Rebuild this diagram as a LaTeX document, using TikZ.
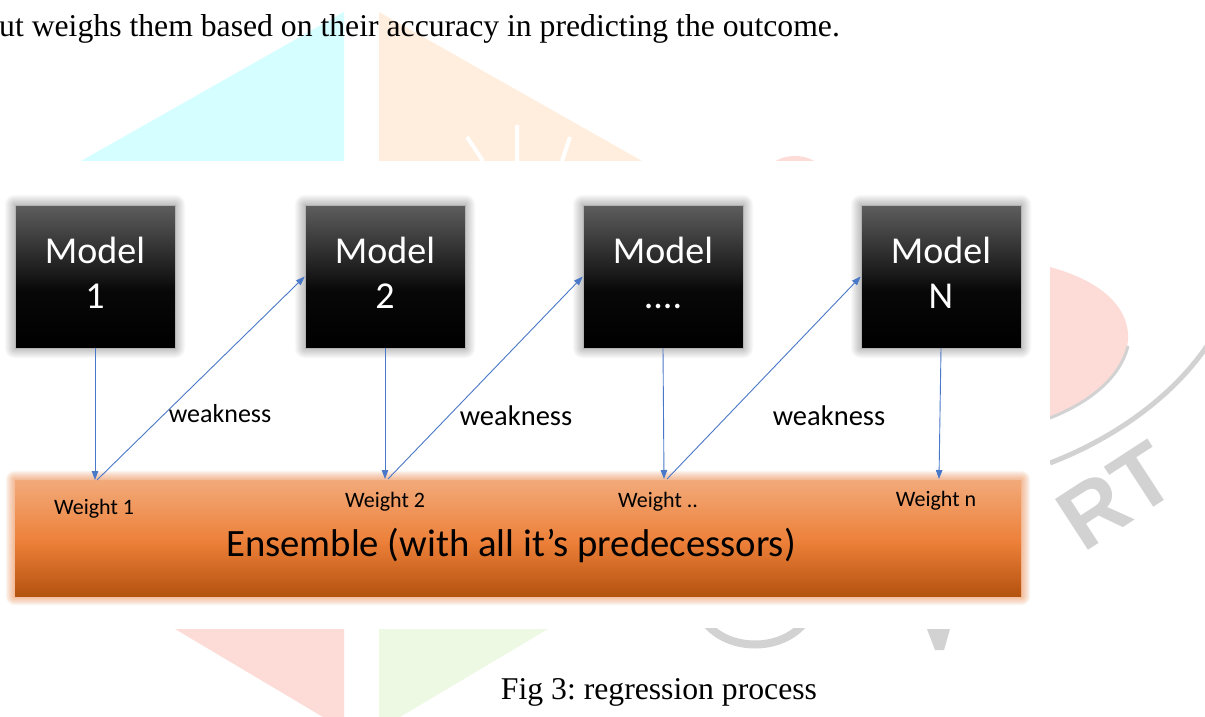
\documentclass[tikz,border=0pt]{standalone}
\usepackage{fontspec}
\setmainfont{Liberation Serif}
\newfontfamily\carlito{Carlito}
\newfontfamily\wmsans{Liberation Sans}
\usetikzlibrary{arrows.meta,calc}
\frenchspacing
\definecolor{arrblue}{HTML}{4A78C8}
\definecolor{wmcyan}{HTML}{D4FEFF}
\definecolor{wmpeach}{HTML}{FFEEDD}
\definecolor{wmpink}{HTML}{FDDCD8}
\definecolor{wmgreen}{HTML}{EEF9E4}
\definecolor{wmgray}{HTML}{D2D2D2}
\definecolor{boxtop}{HTML}{5E5E5E}
\definecolor{ensTop}{HTML}{F2AA7A}
\definecolor{ensMid}{HTML}{EC7F38}
\definecolor{ensBot}{HTML}{B4520F}
\pgfdeclareverticalshading{modelshade}{100bp}{color(0bp)=(black); color(25bp)=(black); color(45bp)=(black!97); color(75bp)=(boxtop); color(100bp)=(boxtop)}
\pgfdeclareverticalshading{ensshade}{100bp}{color(0bp)=(ensBot); color(25bp)=(ensBot); color(48bp)=(ensMid); color(75bp)=(ensTop); color(100bp)=(ensTop)}
\pgfdeclarelayer{wm}
\pgfdeclarelayer{glow}
\pgfsetlayers{wm,glow,main}
\tikzset{
  modelbox/.style={minimum width=160pt, minimum height=143pt, inner sep=0pt, shading=modelshade, draw=gray!60, line width=0.5pt, text=white, align=center, text depth=8pt, font=\carlito\fontsize{38}{45}\selectfont},
  ensbox/.style={minimum width=1006pt, minimum height=116pt, inner sep=0pt, shading=ensshade},
  arr/.style={draw=arrblue, line width=0.9pt, -{Triangle[length=9pt,width=6.5pt]}},
  weaklbl/.style={font=\carlito\fontsize{28.5}{30}\selectfont, inner sep=0pt, anchor=base},
  wlbl/.style={font=\carlito\fontsize{22}{24}\selectfont, inner sep=0pt, anchor=base},
  paratext/.style={font=\fontsize{31.7}{34}\selectfont, inner sep=0pt, anchor=base west}
}
\begin{document}
\begin{tikzpicture}[x=1pt,y=-1pt]
\useasboundingbox (0,0) rectangle (1205,717);
% ---- watermark ----
\begin{pgfonlayer}{wm}
\fill[white] (0,0) rectangle (1205,717);
\fill[wmcyan] (81,161) -- (344,12) -- (344,161) -- cycle;
\fill[wmpeach] (379,12) -- (642,161) -- (379,161) -- cycle;
\draw[white, line width=4pt] (467,137) -- (483,161) (517,125) -- (517,161) (570,137) -- (562,161);
\fill[wmpink] (795,174) ellipse [x radius=28pt, y radius=18pt];
\fill[wmpink] (1050,267) .. controls (1105,282) and (1130,310) .. (1128,340) .. controls (1126,370) and (1095,400) .. (1050,418) -- cycle;
\draw[wmgray, line width=3pt] (1050,418) .. controls (1090,402) and (1120,378) .. (1128,346);
\draw[wmgray, line width=5pt] (1050,463) .. controls (1110,440) and (1170,400) .. (1207,346);
\node[wmgray, font=\wmsans\bfseries\fontsize{88}{88}\selectfont, rotate=33, inner sep=0pt] (wmrt) at (1116,496) {RT};
\fill[wmpink] (175,629) -- (344,629) -- (344,717) -- (323,717) -- cycle;
\fill[wmgreen] (379,629) -- (548,629) -- (400,717) -- (379,717) -- cycle;
\draw[wmgray, line width=8pt] (705,622) .. controls (728,652) and (782,652) .. (805,622);
\fill[wmgray] (927,629) -- (950,629) -- (944,650) -- (935,650) -- cycle;
\fill[white] (0,161) rectangle (1050,628);
\end{pgfonlayer}
% ---- text ----
\node[paratext] (para) at (-1,37) {ut weighs them based on their accuracy in predicting the outcome.};
\node[font=\fontsize{31.7}{34}\selectfont, inner sep=0pt, anchor=base] (cap) at (659,699) {Fig 3: regression process};
% ---- model boxes ----
\node[modelbox] (m1) at (95,276.5) {Model\\1};
\node[modelbox] (m2) at (385,276.5) {Model\\2};
\node[modelbox] (m3) at (663,276.5) {Model\\....};
\node[modelbox] (m4) at (941,276.5) {Model\\N};
\node[ensbox] (ens) at (518,538) {};
\node[font=\carlito\fontsize{38.7}{40}\selectfont, inner sep=0pt, anchor=base] (enstxt) at (511,556) {Ensemble (with all it’s predecessors)};
% glows
\begin{pgfonlayer}{glow}
\foreach \n in {m1,m2,m3,m4}{
  \foreach \i in {1,...,10}{
    \fill[black, opacity=0.022, rounded corners=\i pt] ($(\n.north west)+(-\i,-\i)$) rectangle ($(\n.south east)+(\i,\i)$);
  }
}
\foreach \i in {1,...,9}{
  \fill[ensMid, opacity=0.07, rounded corners=\i pt] ($(ens.north west)+(-\i,-\i)$) rectangle ($(ens.south east)+(\i,\i)$);
}
\end{pgfonlayer}
% ---- weight labels ----
\node[wlbl] (w1) at (94,514) {Weight 1};
\node[wlbl] (w2) at (385,507) {Weight 2};
\node[wlbl] (w3) at (658,507) {Weight ..};
\node[wlbl] (w4) at (936,506) {Weight n};
% ---- connectors ----
\coordinate (t1) at (95,480);
\coordinate (t2) at (385,479);
\coordinate (t3) at (664,479);
\coordinate (t4) at (939,479);
\coordinate (s1) at (97,480);
\coordinate (s2) at (388,479);
\coordinate (s3) at (667,479);
\draw[arr] (m1.south) -- (t1);
\draw[arr] (m2.south) -- (t2);
\draw[arr] (m3.south) -- (t3);
\draw[arr] (m4.south) -- (t4);
\draw[arr] (s1) -- (m2.west);
\draw[arr] (s2) -- (m3.west);
\draw[arr] (s3) -- (m4.west);
% ---- weakness labels ----
\node[weaklbl, font=\carlito\fontsize{26}{30}\selectfont] (k1) at (220,422) {weakness};
\node[weaklbl] (k2) at (516,425) {weakness};
\node[weaklbl] (k3) at (829,425) {weakness};
\end{tikzpicture}
\end{document}
